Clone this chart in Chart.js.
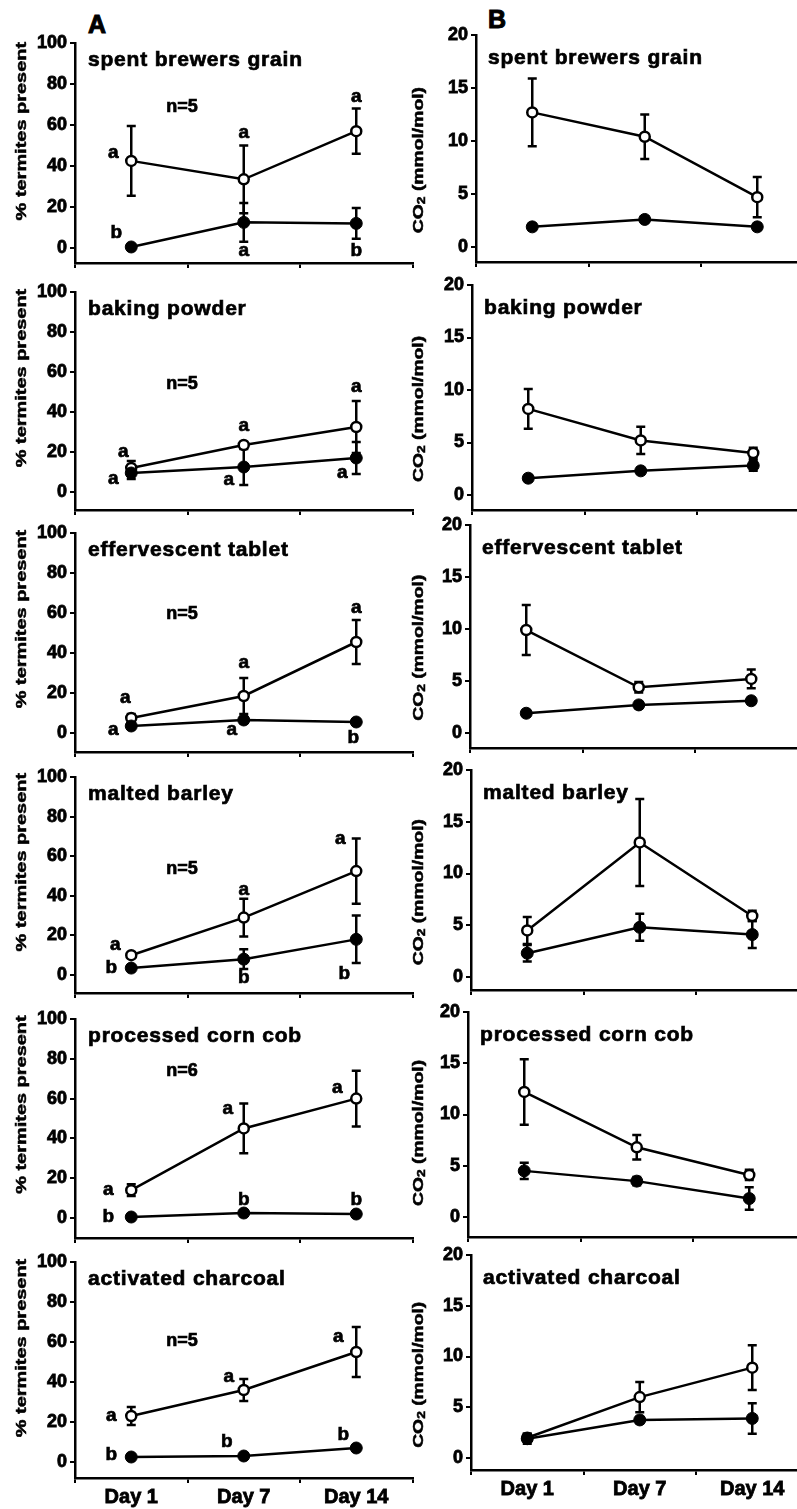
<!DOCTYPE html>
<html lang="en">
<head>
<meta charset="UTF-8">
<title>Termite attraction and CO2</title>
<script src="https://cdn.jsdelivr.net/npm/chart.js@4.4.1/dist/chart.umd.min.js"></script>
<style>
    body { margin: 0; width: 797px; height: 1509px; overflow: hidden; background: #fff; position: relative; }
    canvas { position: absolute; }
    .tag { position: absolute; font: bold 25px "Liberation Sans", Arial, sans-serif; line-height: 1; color: #000; -webkit-text-stroke: 1px #000; }
</style>
</head>
<body>
<div class="tag" style="left:88px;top:12px">A</div>
<div class="tag" style="left:488px;top:7px">B</div>
<script>
// substrates, one row each
const days = ['Day 1', 'Day 7', 'Day 14'];
const substrates = ['spent brewers grain', 'baking powder', 'effervescent tablet', 'malted barley', 'processed corn cob', 'activated charcoal'];
const nReps = [5, 5, 5, 5, 6, 5];

// A: % termites present (open = substrate side, filled = control side)
const pctOpen = [[42.5, 33.5, 57], [12, 23.5, 32.5], [7.5, 18.5, 45.5], [10, 29, 52.5], [14, 45, 60], [23, 36, 55]];
const pctOpenErr = [[17, 16.5, 11], [3.5, 0, 13], [2, 9, 11], [0, 9.5, 16.5], [3, 12.5, 14], [4.5, 5.5, 12.5]];
const pctFilled = [[0.5, 12.5, 12], [9.5, 12.5, 17], [3.5, 6.5, 5.5], [3.5, 8, 18], [0.5, 2.5, 2], [2.5, 3, 7]];
const pctFilledErr = [[0, 9.5, 7.5], [3, 9, 8], [1, 1.5, 1], [1, 5, 12], [0, 0.5, 0.5], [0, 0, 1]];
const sigOpen = [['a', 'a', 'a'], ['a', 'a', 'a'], ['a', 'a', 'a'], ['a', 'a', 'a'], ['a', 'a', 'a'], ['a', 'a', 'a']];
const sigFilled = [['b', 'a', 'b'], ['a', 'a', 'a'], ['a', 'a', 'b'], ['b', 'b', 'b'], ['b', 'b', 'b'], ['b', 'b', 'b']];

// B: CO2 (mmol/mol)
const co2Open = [[12.7, 10.4, 4.7], [8.2, 5.2, 4.0], [9.9, 4.4, 5.2], [4.5, 13.0, 5.9], [12.2, 6.8, 4.1], [2.0, 6.0, 8.9]];
const co2OpenErr = [[3.2, 2.1, 1.9], [1.9, 1.3, 0.5], [2.4, 0.5, 0.9], [1.3, 4.2, 0.5], [3.2, 1.2, 0.5], [0.4, 1.5, 2.2]];
const co2Filled = [[1.9, 2.6, 1.9], [1.6, 2.3, 2.8], [1.9, 2.7, 3.1], [2.3, 4.8, 4.1], [4.5, 3.5, 1.8], [1.9, 3.75, 3.9]];
const co2FilledErr = [[0.3, 0.3, 0.3], [0.3, 0.3, 0.5], [0.3, 0.3, 0.3], [0.8, 1.3, 1.3], [0.8, 0.4, 1.1], [0.5, 0.3, 1.5]];

const pctTicks = [0, 20, 40, 60, 80, 100];
const co2Ticks = [0, 5, 10, 15, 20];

// page layout (px): top of scale, zero line, x axis line
const layoutA = { top: [43, 292, 533, 777, 1019, 1262], zero: [248, 492, 733, 975, 1218, 1462], axis: [263, 510, 752, 993, 1238, 1478], left: [75, 75, 75, 75, 75, 75] };
const layoutB = { top: [35, 285, 525, 770, 1012, 1255], zero: [247, 495, 733, 977, 1217, 1458], axis: [262, 510, 748, 990, 1237, 1470], left: [476, 472, 470, 471, 468, 471] };
const nLabelY = [69, 54, 59.5, 53.5, 74, 60.5];
// letter offsets from their point
const sigOpenOff = [[[-18, -8], [0, -47], [0, -34]], [[-8, -16], [0, -19], [0, -40]], [[-6, -20], [0, -33], [0, -34]],
    [[-16, -10], [0, -28], [-16, -32]], [[-23, 0], [-16, -20], [-19, -11]], [[-20, 0], [-15, -13], [-18, -15]]];
const sigFilledOff = [[[-15, -14], [0, 28], [0, 27]], [[-18, 6], [-15, 13], [-14, 15]], [[-18, 4], [-12, 10], [-3, 16]],
    [[-20, 0], [0, 19], [-12, 34]], [[-23, 0], [0, -13], [0, -14]], [[-20, -2], [-17, -14], [-13, -13]]];

const FONT = '"Liberation Sans", Arial, sans-serif';
const CAT_W = 114;

const errorBars = {
    id: 'errorBars',
    beforeDatasetsDraw(chart) {
        const ctx = chart.ctx, y = chart.scales.y;
        ctx.save();
        ctx.strokeStyle = '#000';
        ctx.lineWidth = 2.5;
        chart.data.datasets.forEach((ds, di) => {
            chart.getDatasetMeta(di).data.forEach((pt, i) => {
                const e = ds.errs[i];
                if (!e) return;
                const t = y.getPixelForValue(ds.data[i] + e);
                const b = y.getPixelForValue(ds.data[i] - e);
                ctx.beginPath();
                ctx.moveTo(pt.x, t); ctx.lineTo(pt.x, b);
                ctx.moveTo(pt.x - 4.5, t); ctx.lineTo(pt.x + 4.5, t);
                ctx.moveTo(pt.x - 4.5, b); ctx.lineTo(pt.x + 4.5, b);
                ctx.stroke();
            });
        });
        ctx.restore();
    }
};

// filled + thin stroke so the lettering comes out heavy
function heavyText(ctx, s, x, y) {
    ctx.fillText(s, x, y);
    ctx.strokeText(s, x, y);
}

function drawRotated(ctx, cx, cy, parts, stretch) {
    ctx.save();
    ctx.translate(cx, cy);
    ctx.rotate(-Math.PI / 2);
    ctx.scale(stretch, 1);
    ctx.textAlign = 'left';
    ctx.textBaseline = 'middle';
    let total = 0;
    parts.forEach(p => { ctx.font = p.font; total += ctx.measureText(p.text).width; });
    let x = -total / 2;
    parts.forEach(p => {
        ctx.font = p.font;
        heavyText(ctx, p.text, x, p.dy || 0);
        x += ctx.measureText(p.text).width;
    });
    ctx.restore();
}

function makePanel(r, isPct) {
    const lay = isPct ? layoutA : layoutB;
    const axisW = isPct ? 75 : 70;
    const padTop = 14;
    const axisX = lay.left[r];
    const canvasLeft = axisX - axisW;
    const vmax = isPct ? 100 : 20;
    const pxPerUnit = (lay.zero[r] - lay.top[r]) / vmax;
    const vmin = -(lay.axis[r] - lay.zero[r]) / pxPerUnit;

    const cv = document.createElement('canvas');
    cv.width = axisW + 3 * CAT_W + 3;
    cv.height = padTop + (lay.axis[r] - lay.top[r]) + 40;
    cv.style.left = canvasLeft + 'px';
    cv.style.top = (lay.top[r] - padTop) + 'px';
    document.body.appendChild(cv);

    const open = isPct ? pctOpen[r] : co2Open[r];
    const openErr = isPct ? pctOpenErr[r] : co2OpenErr[r];
    const filled = isPct ? pctFilled[r] : co2Filled[r];
    const filledErr = isPct ? pctFilledErr[r] : co2FilledErr[r];
    const ticks = isPct ? pctTicks : co2Ticks;

    const labels = {
        id: 'labels',
        afterDraw(chart) {
            const ctx = chart.ctx, a = chart.chartArea, y = chart.scales.y;
            ctx.save();
            ctx.fillStyle = '#000';
            ctx.strokeStyle = '#000';
            ctx.lineWidth = 0.7;
            // substrate name inside the plot
            ctx.font = 'bold 21px ' + FONT;
            ctx.letterSpacing = '0.8px';
            ctx.textAlign = 'left';
            ctx.textBaseline = 'alphabetic';
            heavyText(ctx, substrates[r], a.left + (isPct ? 13 : 12), a.top + (isPct ? 23 : 29));
            ctx.letterSpacing = '0px';

            // axis title
            const tx = (isPct ? 22 : 419) - canvasLeft;
            ctx.lineWidth = 0.5;
            if (isPct) {
                drawRotated(ctx, tx, y.getPixelForValue(57), [{ text: '% termites present', font: 'bold 15px ' + FONT }], 1.33);
            } else {
                drawRotated(ctx, tx, y.getPixelForValue(8.2), [
                    { text: 'CO', font: 'bold 14px ' + FONT },
                    { text: '2', font: 'bold 10px ' + FONT, dy: 3 },
                    { text: ' (mmol/mol)', font: 'bold 14px ' + FONT }
                ], 1.38);
            }

            if (isPct) {
                ctx.lineWidth = 0.7;
                ctx.textAlign = 'center';
                ctx.textBaseline = 'middle';
                ctx.font = 'bold 18px ' + FONT;
                heavyText(ctx, 'n=' + nReps[r], a.left + 107, y.getPixelForValue(nLabelY[r]));
                // significance letters
                ctx.font = 'bold 19px ' + FONT;
                const sets = [[0, sigFilled[r], sigFilledOff[r]], [1, sigOpen[r], sigOpenOff[r]]];
                sets.forEach(([di, sig, off]) => {
                    chart.getDatasetMeta(di).data.forEach((pt, i) => {
                        heavyText(ctx, sig[i], pt.x + off[i][0], pt.y + off[i][1]);
                    });
                });
            }
            ctx.restore();
        }
    };

    new Chart(cv, {
        type: 'line',
        data: {
            labels: days,
            datasets: [
                {
                    data: filled, errs: filledErr,
                    borderColor: '#000', borderWidth: 2.5,
                    pointRadius: 6, pointBackgroundColor: '#000', pointBorderColor: '#000', pointBorderWidth: 1
                },
                {
                    data: open, errs: openErr,
                    borderColor: '#000', borderWidth: 2.5,
                    pointRadius: 5, pointBackgroundColor: '#fff', pointBorderColor: '#000', pointBorderWidth: 2.5
                }
            ]
        },
        options: {
            responsive: false,
            animation: false,
            events: [],
            layout: { padding: { top: padTop, right: 3, left: 0, bottom: 0 } },
            plugins: { legend: { display: false }, tooltip: { enabled: false } },
            scales: {
                x: {
                    type: 'category',
                    offset: true,
                    grid: { offset: true, drawOnChartArea: false, drawTicks: true, tickLength: 5, color: '#000', lineWidth: 2 },
                    border: { color: '#000', width: 2.5 },
                    ticks: {
                        color: '#000', padding: 2, maxRotation: 0, autoSkip: false,
                        textStrokeColor: '#000', textStrokeWidth: 0.8,
                        font: { family: FONT, size: 20, weight: 'bold' },
                        callback: (v, i) => r === 5 ? days[i] : ''
                    },
                    afterFit: s => { s.height = 40; }
                },
                y: {
                    min: vmin, max: vmax,
                    grid: { drawOnChartArea: false, tickLength: 5, color: '#000', lineWidth: 2 },
                    border: { color: '#000', width: 2.5 },
                    ticks: {
                        color: '#000', padding: 3,
                        textStrokeColor: '#000', textStrokeWidth: 0.8,
                        font: { family: FONT, size: 18, weight: 'bold' }
                    },
                    afterBuildTicks: s => { s.ticks = ticks.map(v => ({ value: v })); },
                    afterFit: s => { s.width = axisW; }
                }
            }
        },
        plugins: [errorBars, labels]
    });
}

for (let r = 0; r < substrates.length; r++) {
    makePanel(r, true);
    makePanel(r, false);
}
</script>
</body>
</html>
